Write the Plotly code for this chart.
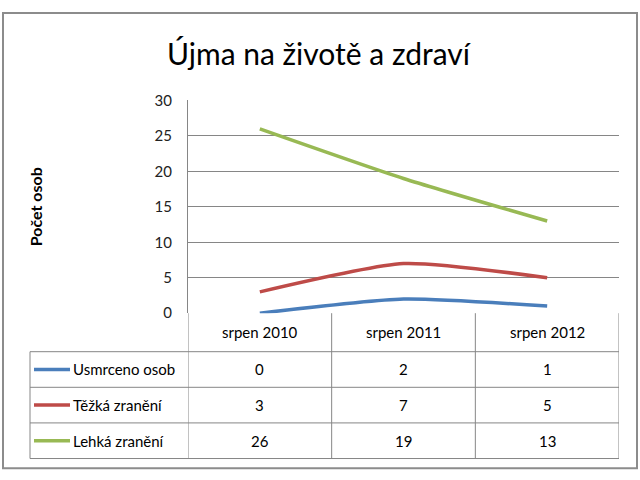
import plotly.graph_objects as go

categories = ["srpen 2010", "srpen 2011", "srpen 2012"]
series_names = ["Usmrceno osob", "Těžká zranění", "Lehká zranění"]
usmrceno = [0, 2, 1]
tezka = [3, 7, 5]
lehka = [26, 19, 13]
series_values = [usmrceno, tezka, lehka]
series_colors = ["#4A7EBB", "#BE4B48", "#98B954"]
y_ticks = [0, 5, 10, 15, 20, 25, 30]

W, H = 640, 480
FONT = "Lato"
GRID = "#868686"


def px(x):
    return x / W


def py(y):
    return 1 - y / H


fig = go.Figure()
xs = list(range(len(categories)))
for name, vals, col in zip(series_names, series_values, series_colors):
    fig.add_trace(go.Scatter(x=xs, y=vals, name=name, mode="lines",
                             line=dict(color=col, width=3.5, shape="spline", smoothing=0.6),
                             showlegend=False, hoverinfo="x+y+name"))

shapes = []
# outer border
shapes.append(dict(type="rect", xref="paper", yref="paper", x0=px(3), x1=px(637), y0=py(3), y1=py(476),
                   line=dict(color="#8C8C8C", width=2)))
# table horizontal lines
for yy in [355, 392, 429, 466]:
    shapes.append(dict(type="line", xref="paper", yref="paper", x0=px(30), x1=px(619), y0=py(yy), y1=py(yy),
                       line=dict(color=GRID, width=1)))
# table vertical lines
shapes.append(dict(type="line", xref="paper", yref="paper", x0=px(30), x1=px(30), y0=py(355), y1=py(466),
                   line=dict(color=GRID, width=1)))
for b in [-0.5, 0.5, 1.5, 2.5]:
    shapes.append(dict(type="line", xref="x", yref="paper", x0=b, x1=b, y0=py(315), y1=py(466),
                       line=dict(color=GRID, width=1)))

annotations = []
for i, c in enumerate(categories):
    annotations.append(dict(x=i, xref="x", y=py(335), yref="paper", text=c, showarrow=False,
                            xanchor="center", yanchor="middle",
                            font=dict(family=FONT, size=15, color="#000000")))
row_centers = [373.5, 410.5, 447.5]
for name, vals, col, rc in zip(series_names, series_values, series_colors, row_centers):
    shapes.append(dict(type="line", xref="paper", yref="paper", x0=px(34), x1=px(70), y0=py(rc), y1=py(rc),
                       line=dict(color=col, width=3.5)))
    annotations.append(dict(x=px(71), xref="paper", y=py(rc), yref="paper", text=name, showarrow=False,
                            xanchor="left", yanchor="middle",
                            font=dict(family=FONT, size=15, color="#000000")))
    for i, v in enumerate(vals):
        annotations.append(dict(x=i, xref="x", y=py(rc), yref="paper", text=str(v), showarrow=False,
                                xanchor="center", yanchor="middle",
                                font=dict(family=FONT, size=15, color="#000000")))

annotations.append(dict(x=px(35), xref="paper", y=py(205), yref="paper", text="<b>Počet osob</b>",
                        textangle=-90, showarrow=False, xanchor="center", yanchor="middle",
                        font=dict(family=FONT, size=16, color="#000000")))
annotations.append(dict(x=px(319), xref="paper", y=py(45), yref="paper", text="Újma na životě a zdraví",
                        showarrow=False, xanchor="center", yanchor="middle",
                        font=dict(family=FONT, size=30, color="#000000")))

fig.update_layout(
    width=W, height=H, margin=dict(l=0, r=0, t=0, b=0),
    paper_bgcolor="white", plot_bgcolor="white",
    xaxis=dict(domain=[px(188), px(619)], range=[-0.5, 2.5], showticklabels=False, showgrid=False,
               zeroline=False, showline=False, fixedrange=True),
    yaxis=dict(domain=[py(315), py(94)], range=[0, 30], tickvals=y_ticks, showgrid=True, gridcolor=GRID,
               gridwidth=1, zeroline=False, showline=True, linecolor=GRID, linewidth=1,
               ticks="", ticklabelstandoff=12,
               tickfont=dict(family=FONT, size=15, color="#222222"), fixedrange=True),
    shapes=shapes, annotations=annotations,
)
fig.write_html("out.html")
